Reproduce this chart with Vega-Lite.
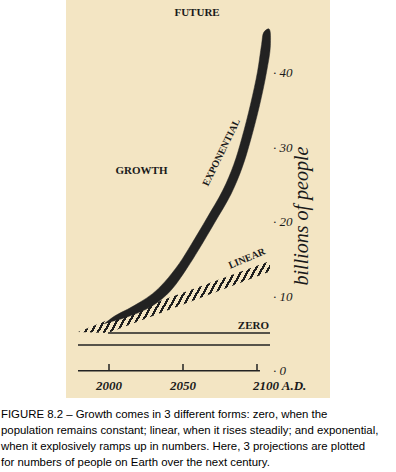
{
  "$schema": "https://vega.github.io/schema/vega-lite/v6.json",
  "autosize": "none",
  "width": 264,
  "height": 398,
  "padding": {"left": 66, "top": 0, "right": 66, "bottom": 74},
  "background": "#ffffff",
  "config": {"view": {"stroke": null, "fill": "#f3e5c3"}},
  "title": {
    "text": [
      "FIGURE 8.2 – Growth comes in 3 different forms: zero, when the",
      "population remains constant; linear, when it rises steadily; and exponential,",
      "when it explosively ramps up in numbers. Here, 3 projections are plotted",
      "for numbers of people on Earth over the next century."
    ],
    "orient": "bottom",
    "anchor": "start",
    "frame": "group",
    "font": "Liberation Sans",
    "fontSize": 11.4,
    "fontWeight": "normal",
    "color": "#000000",
    "lineHeight": 16,
    "offset": 11,
    "dx": -65
  },
  "encoding": {
    "x": {"field": "year", "type": "quantitative", "scale": {"domain": [1970.946, 2149.324], "nice": false, "zero": false}, "axis": null},
    "y": {"field": "v", "type": "quantitative", "scale": {"domain": [-3.624, 49.799], "nice": false, "zero": false}, "axis": null}
  },
  "layer": [
    {
      "data": {"values": [
        {"year": 1979.05, "v": 5.23, "v2": 5.23},
        {"year": 1999.3, "v": 6.83, "v2": 5.10},
        {"year": 2108.8, "v": 14.77, "v2": 13.36}
      ]},
      "mark": {"type": "area", "interpolate": "linear", "fill": {
        "gradient": "linear", "x1": 0, "y1": 0, "x2": 1.16, "y2": 0.2417,
        "stops": [
          {"offset":0,"color":"#1e1e1e"},{"offset":0.011,"color":"#1e1e1e"},{"offset":0.011,"color":"#f3e5c3"},{"offset":0.0278,"color":"#f3e5c3"},
          {"offset":0.0278,"color":"#1e1e1e"},{"offset":0.0388,"color":"#1e1e1e"},{"offset":0.0388,"color":"#f3e5c3"},{"offset":0.0556,"color":"#f3e5c3"},
          {"offset":0.0556,"color":"#1e1e1e"},{"offset":0.0666,"color":"#1e1e1e"},{"offset":0.0666,"color":"#f3e5c3"},{"offset":0.0833,"color":"#f3e5c3"},
          {"offset":0.0833,"color":"#1e1e1e"},{"offset":0.0943,"color":"#1e1e1e"},{"offset":0.0943,"color":"#f3e5c3"},{"offset":0.1111,"color":"#f3e5c3"},
          {"offset":0.1111,"color":"#1e1e1e"},{"offset":0.1221,"color":"#1e1e1e"},{"offset":0.1221,"color":"#f3e5c3"},{"offset":0.1389,"color":"#f3e5c3"},
          {"offset":0.1389,"color":"#1e1e1e"},{"offset":0.1499,"color":"#1e1e1e"},{"offset":0.1499,"color":"#f3e5c3"},{"offset":0.1667,"color":"#f3e5c3"},
          {"offset":0.1667,"color":"#1e1e1e"},{"offset":0.1777,"color":"#1e1e1e"},{"offset":0.1777,"color":"#f3e5c3"},{"offset":0.1944,"color":"#f3e5c3"},
          {"offset":0.1944,"color":"#1e1e1e"},{"offset":0.2054,"color":"#1e1e1e"},{"offset":0.2054,"color":"#f3e5c3"},{"offset":0.2222,"color":"#f3e5c3"},
          {"offset":0.2222,"color":"#1e1e1e"},{"offset":0.2332,"color":"#1e1e1e"},{"offset":0.2332,"color":"#f3e5c3"},{"offset":0.25,"color":"#f3e5c3"},
          {"offset":0.25,"color":"#1e1e1e"},{"offset":0.261,"color":"#1e1e1e"},{"offset":0.261,"color":"#f3e5c3"},{"offset":0.2778,"color":"#f3e5c3"},
          {"offset":0.2778,"color":"#1e1e1e"},{"offset":0.2888,"color":"#1e1e1e"},{"offset":0.2888,"color":"#f3e5c3"},{"offset":0.3056,"color":"#f3e5c3"},
          {"offset":0.3056,"color":"#1e1e1e"},{"offset":0.3166,"color":"#1e1e1e"},{"offset":0.3166,"color":"#f3e5c3"},{"offset":0.3333,"color":"#f3e5c3"},
          {"offset":0.3333,"color":"#1e1e1e"},{"offset":0.3443,"color":"#1e1e1e"},{"offset":0.3443,"color":"#f3e5c3"},{"offset":0.3611,"color":"#f3e5c3"},
          {"offset":0.3611,"color":"#1e1e1e"},{"offset":0.3721,"color":"#1e1e1e"},{"offset":0.3721,"color":"#f3e5c3"},{"offset":0.3889,"color":"#f3e5c3"},
          {"offset":0.3889,"color":"#1e1e1e"},{"offset":0.3999,"color":"#1e1e1e"},{"offset":0.3999,"color":"#f3e5c3"},{"offset":0.4167,"color":"#f3e5c3"},
          {"offset":0.4167,"color":"#1e1e1e"},{"offset":0.4277,"color":"#1e1e1e"},{"offset":0.4277,"color":"#f3e5c3"},{"offset":0.4444,"color":"#f3e5c3"},
          {"offset":0.4444,"color":"#1e1e1e"},{"offset":0.4554,"color":"#1e1e1e"},{"offset":0.4554,"color":"#f3e5c3"},{"offset":0.4722,"color":"#f3e5c3"},
          {"offset":0.4722,"color":"#1e1e1e"},{"offset":0.4832,"color":"#1e1e1e"},{"offset":0.4832,"color":"#f3e5c3"},{"offset":0.5,"color":"#f3e5c3"},
          {"offset":0.5,"color":"#1e1e1e"},{"offset":0.511,"color":"#1e1e1e"},{"offset":0.511,"color":"#f3e5c3"},{"offset":0.5278,"color":"#f3e5c3"},
          {"offset":0.5278,"color":"#1e1e1e"},{"offset":0.5388,"color":"#1e1e1e"},{"offset":0.5388,"color":"#f3e5c3"},{"offset":0.5556,"color":"#f3e5c3"},
          {"offset":0.5556,"color":"#1e1e1e"},{"offset":0.5666,"color":"#1e1e1e"},{"offset":0.5666,"color":"#f3e5c3"},{"offset":0.5833,"color":"#f3e5c3"},
          {"offset":0.5833,"color":"#1e1e1e"},{"offset":0.5943,"color":"#1e1e1e"},{"offset":0.5943,"color":"#f3e5c3"},{"offset":0.6111,"color":"#f3e5c3"},
          {"offset":0.6111,"color":"#1e1e1e"},{"offset":0.6221,"color":"#1e1e1e"},{"offset":0.6221,"color":"#f3e5c3"},{"offset":0.6389,"color":"#f3e5c3"},
          {"offset":0.6389,"color":"#1e1e1e"},{"offset":0.6499,"color":"#1e1e1e"},{"offset":0.6499,"color":"#f3e5c3"},{"offset":0.6667,"color":"#f3e5c3"},
          {"offset":0.6667,"color":"#1e1e1e"},{"offset":0.6777,"color":"#1e1e1e"},{"offset":0.6777,"color":"#f3e5c3"},{"offset":0.6944,"color":"#f3e5c3"},
          {"offset":0.6944,"color":"#1e1e1e"},{"offset":0.7054,"color":"#1e1e1e"},{"offset":0.7054,"color":"#f3e5c3"},{"offset":0.7222,"color":"#f3e5c3"},
          {"offset":0.7222,"color":"#1e1e1e"},{"offset":0.7332,"color":"#1e1e1e"},{"offset":0.7332,"color":"#f3e5c3"},{"offset":0.75,"color":"#f3e5c3"},
          {"offset":0.75,"color":"#1e1e1e"},{"offset":0.761,"color":"#1e1e1e"},{"offset":0.761,"color":"#f3e5c3"},{"offset":0.7778,"color":"#f3e5c3"},
          {"offset":0.7778,"color":"#1e1e1e"},{"offset":0.7888,"color":"#1e1e1e"},{"offset":0.7888,"color":"#f3e5c3"},{"offset":0.8056,"color":"#f3e5c3"},
          {"offset":0.8056,"color":"#1e1e1e"},{"offset":0.8166,"color":"#1e1e1e"},{"offset":0.8166,"color":"#f3e5c3"},{"offset":0.8333,"color":"#f3e5c3"},
          {"offset":0.8333,"color":"#1e1e1e"},{"offset":0.8443,"color":"#1e1e1e"},{"offset":0.8443,"color":"#f3e5c3"},{"offset":0.8611,"color":"#f3e5c3"},
          {"offset":0.8611,"color":"#1e1e1e"},{"offset":0.8721,"color":"#1e1e1e"},{"offset":0.8721,"color":"#f3e5c3"},{"offset":0.8889,"color":"#f3e5c3"},
          {"offset":0.8889,"color":"#1e1e1e"},{"offset":0.8999,"color":"#1e1e1e"},{"offset":0.8999,"color":"#f3e5c3"},{"offset":0.9167,"color":"#f3e5c3"},
          {"offset":0.9167,"color":"#1e1e1e"},{"offset":0.9277,"color":"#1e1e1e"},{"offset":0.9277,"color":"#f3e5c3"},{"offset":0.9444,"color":"#f3e5c3"},
          {"offset":0.9444,"color":"#1e1e1e"},{"offset":0.9554,"color":"#1e1e1e"},{"offset":0.9554,"color":"#f3e5c3"},{"offset":0.9722,"color":"#f3e5c3"},
          {"offset":0.9722,"color":"#1e1e1e"},{"offset":0.9832,"color":"#1e1e1e"},{"offset":0.9832,"color":"#f3e5c3"},{"offset":1,"color":"#f3e5c3"}
        ]
      }},
      "encoding": {"y2": {"field": "v2"}}
    },
    {
      "data": {"values": [
        {"o": 0, "year": 1996.62, "v": 6.31},
        {"o": 1, "year": 2004.12, "v": 7.42},
        {"o": 2, "year": 2012.57, "v": 8.28},
        {"o": 3, "year": 2020.81, "v": 9.22},
        {"o": 4, "year": 2029.26, "v": 10.35},
        {"o": 5, "year": 2037.64, "v": 11.96},
        {"o": 6, "year": 2047.50, "v": 14.44},
        {"o": 7, "year": 2055.47, "v": 16.95},
        {"o": 8, "year": 2066.28, "v": 20.56},
        {"o": 9, "year": 2076.96, "v": 24.28},
        {"o": 10, "year": 2084.32, "v": 27.72},
        {"o": 11, "year": 2089.66, "v": 31.17},
        {"o": 12, "year": 2095.68, "v": 35.84},
        {"o": 13, "year": 2100.41, "v": 40.24},
        {"o": 14, "year": 2103.11, "v": 43.84},
        {"o": 15, "year": 2104.73, "v": 45.50},
        {"o": 16, "year": 2108.11, "v": 45.91},
        {"o": 17, "year": 2109.05, "v": 43.68},
        {"o": 18, "year": 2106.35, "v": 40.03},
        {"o": 19, "year": 2101.62, "v": 35.57},
        {"o": 20, "year": 2095.47, "v": 30.85},
        {"o": 21, "year": 2090.00, "v": 27.32},
        {"o": 22, "year": 2082.50, "v": 23.77},
        {"o": 23, "year": 2071.55, "v": 19.97},
        {"o": 24, "year": 2060.74, "v": 16.34},
        {"o": 25, "year": 2052.50, "v": 13.74},
        {"o": 26, "year": 2042.91, "v": 11.07},
        {"o": 27, "year": 2034.46, "v": 9.46},
        {"o": 28, "year": 2025.00, "v": 8.28},
        {"o": 29, "year": 2014.46, "v": 7.42},
        {"o": 30, "year": 2005.34, "v": 6.81}
      ]},
      "mark": {"type": "line", "filled": true, "interpolate": "catmull-rom", "color": "#222222", "fill": "#222222", "stroke": "#222222", "strokeWidth": 0.5},
      "encoding": {"order": {"field": "o", "type": "quantitative"}}
    },
    {
      "data": {"values": [
        {"year": 1999.3, "year2": 2108.8, "v": 5.10},
        {"year": 1979.05, "year2": 2108.8, "v": 3.49},
        {"year": 1979.05, "year2": 2102.0, "v": 0.04}
      ]},
      "mark": {"type": "rule", "color": "#222222", "strokeWidth": 1.5},
      "encoding": {"x2": {"field": "year2"}}
    },
    {
      "data": {"values": [{"year": 2000, "v": 0.04, "v2": 0.95}, {"year": 2050, "v": 0.04, "v2": 0.95}, {"year": 2100, "v": 0.04, "v2": 0.95}]},
      "mark": {"type": "rule", "color": "#222222", "strokeWidth": 1.5},
      "encoding": {"y2": {"field": "v2"}}
    },
    {
      "data": {"values": [{"year": 2000, "v": -1.95, "t": "2000"}, {"year": 2050, "v": -1.95, "t": "2050"}]},
      "mark": {"type": "text", "font": "Liberation Serif", "fontStyle": "italic", "fontWeight": "bold", "fontSize": 13, "color": "#1a1a1a", "align": "center", "baseline": "middle"},
      "encoding": {"text": {"field": "t"}}
    },
    {
      "data": {"values": [{"year": 2097.3, "v": -1.95, "t": "2100 A.D."}]},
      "mark": {"type": "text", "font": "Liberation Serif", "fontStyle": "italic", "fontWeight": "bold", "fontSize": 13, "color": "#1a1a1a", "align": "left", "baseline": "middle"},
      "encoding": {"text": {"field": "t"}}
    },
    {
      "data": {"values": [
        {"year": 2110.8, "v": 40, "t": "· 40"},
        {"year": 2110.8, "v": 30, "t": "· 30"},
        {"year": 2110.8, "v": 20, "t": "· 20"},
        {"year": 2110.8, "v": 10, "t": "· 10"},
        {"year": 2110.8, "v": 0, "t": "· 0"}
      ]},
      "mark": {"type": "text", "font": "Liberation Serif", "fontStyle": "italic", "fontSize": 13, "color": "#1a1a1a", "align": "left", "baseline": "middle"},
      "encoding": {"text": {"field": "t"}}
    },
    {
      "data": {"values": [{"year": 2130.5, "v": 20.8, "t": "billions of people"}]},
      "mark": {"type": "text", "font": "Liberation Serif", "fontStyle": "italic", "fontSize": 20, "color": "#1a1a1a", "align": "center", "baseline": "middle", "angle": 270},
      "encoding": {"text": {"field": "t"}}
    },
    {
      "data": {"values": [
        {"year": 2059.5, "v": 47.99, "t": "FUTURE"},
        {"year": 2021.96, "v": 26.85, "t": "GROWTH"},
        {"year": 2097.6, "v": 6.04, "t": "ZERO"}
      ]},
      "mark": {"type": "text", "font": "Liberation Serif", "fontWeight": "bold", "fontSize": 11, "color": "#1a1a1a", "align": "center", "baseline": "middle"},
      "encoding": {"text": {"field": "t"}}
    },
    {
      "data": {"values": [{"year": 2093.2, "v": 15.1, "t": "LINEAR"}]},
      "mark": {"type": "text", "font": "Liberation Serif", "fontWeight": "bold", "fontSize": 10, "color": "#1a1a1a", "align": "center", "baseline": "middle", "angle": 337},
      "encoding": {"text": {"field": "t"}}
    },
    {
      "data": {"values": [{"year": 2076.0, "v": 29.33, "t": "EXPONENTIAL"}]},
      "mark": {"type": "text", "font": "Liberation Serif", "fontWeight": "bold", "fontSize": 10, "color": "#1a1a1a", "align": "center", "baseline": "middle", "angle": 296},
      "encoding": {"text": {"field": "t"}}
    }
  ]
}
